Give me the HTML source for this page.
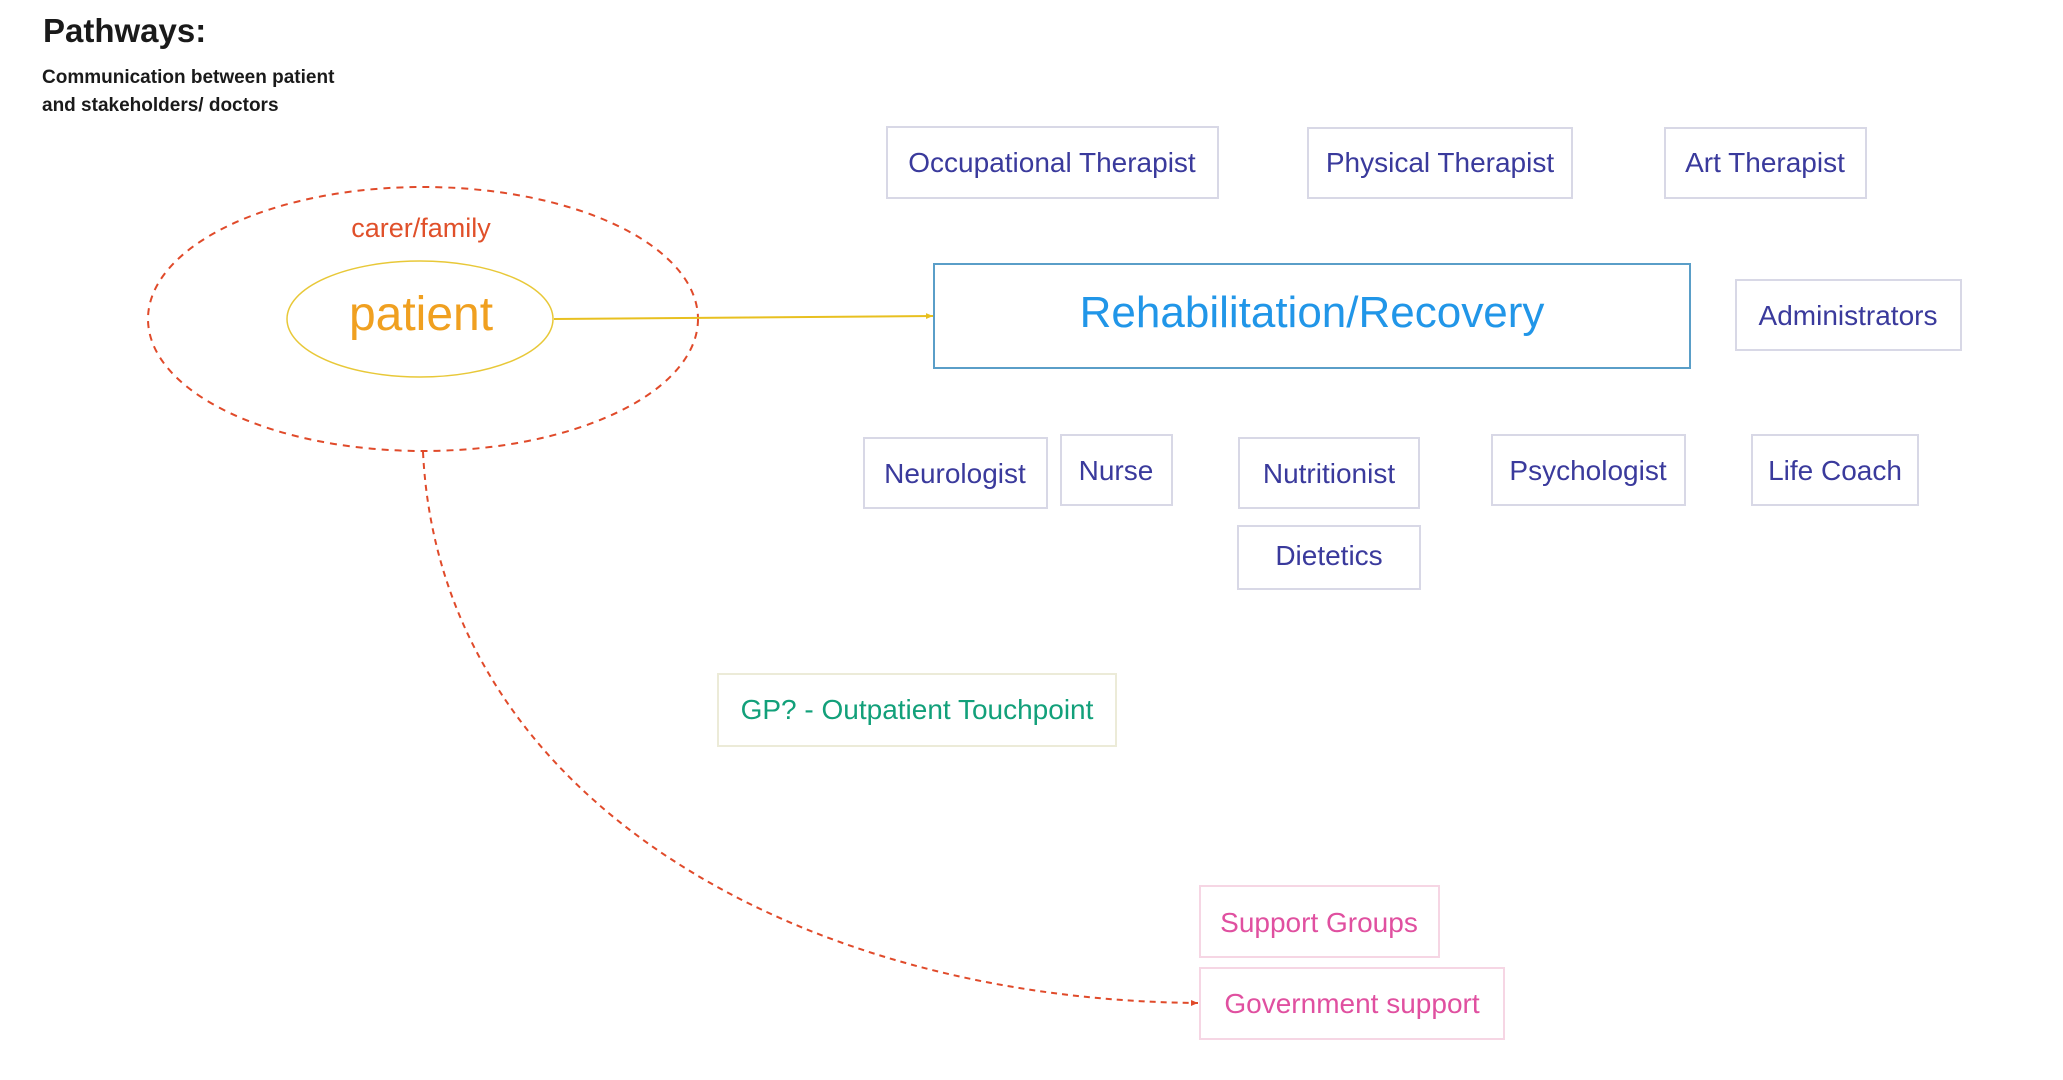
<!DOCTYPE html>
<html><head><meta charset="utf-8"><style>
html,body{margin:0;padding:0;background:#fff;}
svg{display:block;}
text{font-family:"Liberation Sans",sans-serif;}
</style></head><body>
<svg width="2063" height="1080" viewBox="0 0 2063 1080" xmlns="http://www.w3.org/2000/svg">
<defs>
<marker id="ar" markerWidth="8" markerHeight="8" refX="7" refY="4" orient="auto" markerUnits="userSpaceOnUse">
<path d="M0,1 L7,4 L0,7 z" fill="#e04a2a"/></marker>
<marker id="ay" markerWidth="8" markerHeight="8" refX="7" refY="4" orient="auto" markerUnits="userSpaceOnUse">
<path d="M0,1 L7,4 L0,7 z" fill="#e8c020"/></marker>
</defs>
<text x="43" y="42" font-size="33" font-weight="bold" fill="#1a1a1a">Pathways:</text>
<text x="42" y="83" font-size="19" font-weight="bold" fill="#1a1a1a">Communication between patient</text>
<text x="42" y="111" font-size="19" font-weight="bold" fill="#1a1a1a">and stakeholders/ doctors</text>

<ellipse cx="423" cy="319" rx="275" ry="132" fill="none" stroke="#e04a2a" stroke-width="2" stroke-dasharray="7,6"/>
<ellipse cx="420" cy="319" rx="133" ry="58" fill="none" stroke="#e8c838" stroke-width="1.5"/>
<text x="421" y="237" font-size="27" fill="#e0502a" text-anchor="middle">carer/family</text>
<text x="421" y="330" font-size="48" fill="#f0a020" text-anchor="middle">patient</text>
<line x1="554" y1="319" x2="933" y2="316" stroke="#e8c020" stroke-width="2" marker-end="url(#ay)"/>

<path d="M423 452 C 440 800, 800 1000, 1198 1003" fill="none" stroke="#e04a2a" stroke-width="2" stroke-dasharray="6,5" marker-end="url(#ar)"/>

<rect x="934" y="264" width="756" height="104" fill="#fff" stroke="#5a9ec8" stroke-width="2"/>
<text x="1312" y="327" font-size="44" fill="#2196e8" text-anchor="middle">Rehabilitation/Recovery</text>

<g fill="#fff" stroke="#d8d8e6" stroke-width="2">
<rect x="887" y="127" width="331" height="71"/>
<rect x="1308" y="128" width="264" height="70"/>
<rect x="1665" y="128" width="201" height="70"/>
<rect x="1736" y="280" width="225" height="70"/>
<rect x="864" y="438" width="183" height="70"/>
<rect x="1061" y="435" width="111" height="70"/>
<rect x="1239" y="438" width="180" height="70"/>
<rect x="1238" y="526" width="182" height="63"/>
<rect x="1492" y="435" width="193" height="70"/>
<rect x="1752" y="435" width="166" height="70"/>
</g>
<rect x="718" y="674" width="398" height="72" fill="#fff" stroke="#ecebd8" stroke-width="2"/>
<rect x="1200" y="886" width="239" height="71" fill="#fff" stroke="#f6d6e4" stroke-width="2"/>
<rect x="1200" y="968" width="304" height="71" fill="#fff" stroke="#f6d6e4" stroke-width="2"/>

<g font-size="28" fill="#3a3a9c" text-anchor="middle">
<text x="1052" y="172">Occupational Therapist</text>
<text x="1440" y="172">Physical Therapist</text>
<text x="1765" y="172">Art Therapist</text>
<text x="1848" y="325">Administrators</text>
<text x="955" y="483">Neurologist</text>
<text x="1116" y="480">Nurse</text>
<text x="1329" y="483">Nutritionist</text>
<text x="1329" y="565">Dietetics</text>
<text x="1588" y="480">Psychologist</text>
<text x="1835" y="480">Life Coach</text>
</g>
<text x="917" y="719" font-size="28" fill="#12a07a" text-anchor="middle">GP? - Outpatient Touchpoint</text>
<text x="1319" y="932" font-size="28" fill="#e050a0" text-anchor="middle">Support Groups</text>
<text x="1352" y="1013" font-size="28" fill="#e050a0" text-anchor="middle">Government support</text>
</svg>
</body></html>
